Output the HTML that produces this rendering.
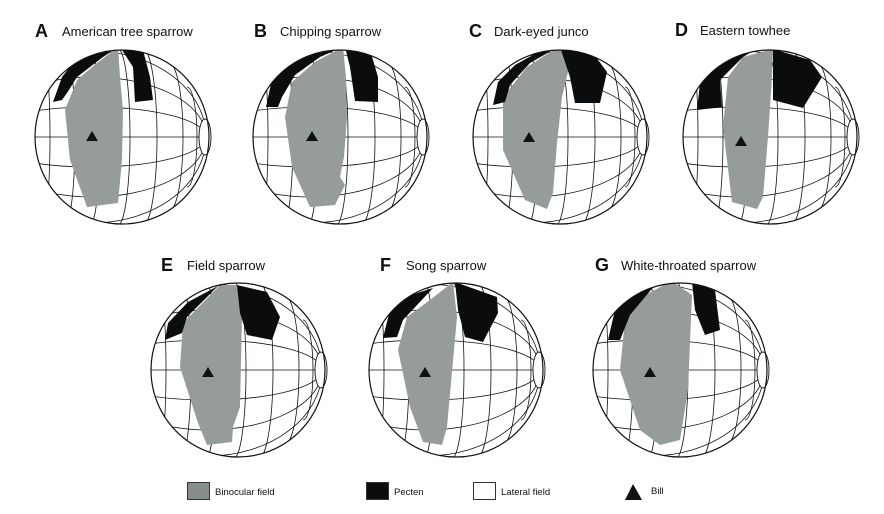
<!DOCTYPE html>
<html><head><meta charset="utf-8"><style>
body{margin:0;background:#fff;}
svg{display:block;}
text{font-family:"Liberation Sans",Arial,sans-serif;fill:#111;}
.l{font-size:18px;font-weight:bold;}
.n{font-size:13px;}
.lg{font-size:9.5px;}
</style></head><body>
<svg width="884" height="514" viewBox="0 0 884 514" xmlns="http://www.w3.org/2000/svg">
<defs>
<clipPath id="cp"><circle cx="0" cy="0" r="87"/></clipPath>
<g id="grid" fill="none" stroke="#111" stroke-width="0.8">
 <line x1="-87" y1="0" x2="84" y2="0"/>
 <ellipse cx="-30" cy="0" rx="114" ry="30"/>
 <ellipse cx="-30" cy="0" rx="114" ry="60"/>
 <ellipse cx="-30" cy="0" rx="114" ry="86"/>
 <path d="M65,-50 A10 50 0 0 1 65,50"/>
 <path d="M47,-74 A14 74 0 0 1 47,74"/>
 <path d="M21,-88 A14 88 0 0 1 21,88"/>
 <path d="M-4,-88 A12 88 0 0 1 -4,88"/>
 <path d="M-32,-88 A10 88 0 0 1 -32,88"/>
 <path d="M-57,-88 A10 88 0 0 1 -57,88"/>
 <path d="M-80,-88 A8 88 0 0 1 -80,88"/>
</g>
<g id="rim">
 <ellipse cx="83" cy="0" rx="6" ry="18" fill="#fff" stroke="#111" stroke-width="0.9"/>
 <circle cx="0" cy="0" r="87" fill="none" stroke="#111" stroke-width="1.2"/>
</g>
</defs>

<!-- A -->
<g transform="translate(122,137)">
 <g clip-path="url(#cp)">
  <use href="#grid"/>
  <polygon fill="#959c9b" points="-4,-90 -2,-60 1,-27 0,23 -4,66 -35,70 -52,23 -57,-27 -45,-57 -25,-74"/>
  <polygon fill="#0a0c0d" points="-69,-35 -60,-60 -49,-74 -25,-85 -4,-90 -19,-80 -45,-60 -55,-44 -60,-37"/>
  <polygon fill="#0a0c0d" points="-2,-90 21,-87 28,-60 31,-37 13,-35 11,-70"/>
 </g>
 <use href="#rim"/>
 <polygon points="-36,4 -30,-6 -24,4" fill="#111"/>
</g>
<!-- B -->
<g transform="translate(340,137)">
 <g clip-path="url(#cp)">
  <use href="#grid"/>
  <polygon fill="#959c9b" points="3,-90 6,-60 7,-20 4,20 0,40 5,48 -5,68 -30,70 -48,30 -55,-20 -48,-55 -25,-75"/>
  <polygon fill="#0a0c0d" points="-74,-30 -68,-58 -50,-75 -25,-86 3,-90 -20,-80 -45,-62 -58,-40 -62,-30"/>
  <polygon fill="#0a0c0d" points="5,-90 30,-87 38,-60 38,-35 15,-36 10,-70"/>
 </g>
 <use href="#rim"/>
 <polygon points="-34,4 -28,-6 -22,4" fill="#111"/>
</g>
<!-- C -->
<g transform="translate(560,137)">
 <g clip-path="url(#cp)">
  <use href="#grid"/>
  <polygon fill="#959c9b" points="-2,-90 10,-74 2,-40 -3,6 -7,56 -13,72 -35,63 -57,13 -57,-40 -33,-70"/>
  <polygon fill="#0a0c0d" points="-67,-32 -62,-55 -45,-72 -20,-86 -2,-90 -30,-74 -50,-52 -55,-35"/>
  <polygon fill="#0a0c0d" points="0,-90 30,-88 47,-65 40,-34 15,-34 10,-60"/>
 </g>
 <use href="#rim"/>
 <polygon points="-37,5 -31,-5 -25,5" fill="#111"/>
</g>
<!-- D -->
<g transform="translate(770,137)">
 <g clip-path="url(#cp)">
  <use href="#grid"/>
  <polygon fill="#959c9b" points="3,-88 2,-60 -2,0 -7,60 -13,72 -38,65 -47,-10 -42,-60 -27,-80"/>
  <polygon fill="#0a0c0d" points="-73,-27 -70,-54 -50,-72 -30,-84 -10,-90 -27,-80 -50,-57 -48,-30"/>
  <polygon fill="#0a0c0d" points="3,-88 40,-77 52,-60 33,-29 3,-37"/>
 </g>
 <use href="#rim"/>
 <polygon points="-35,9 -29,-1 -23,9" fill="#111"/>
</g>
<!-- E -->
<g transform="translate(238,370)">
 <g clip-path="url(#cp)">
  <use href="#grid"/>
  <polygon fill="#959c9b" points="-18,-85 -1,-85 4,-53 2,37 -5,57 -6,72 -31,75 -40,53 -58,-3 -55,-47"/>
  <polygon fill="#0a0c0d" points="-73,-30 -70,-47 -50,-68 -20,-84 -51,-53 -56,-37"/>
  <polygon fill="#0a0c0d" points="-1,-85 29,-78 42,-53 34,-30 9,-35 2,-57"/>
 </g>
 <use href="#rim"/>
 <polygon points="-36,7 -30,-3 -24,7" fill="#111"/>
</g>
<!-- F -->
<g transform="translate(456,370)">
 <g clip-path="url(#cp)">
  <use href="#grid"/>
  <polygon fill="#959c9b" points="-3,-88 1,-53 -9,57 -14,75 -33,72 -46,37 -58,-20 -49,-53 -26,-70"/>
  <polygon fill="#0a0c0d" points="-73,-32 -66,-60 -45,-75 -23,-82 -53,-50 -59,-33"/>
  <polygon fill="#0a0c0d" points="-1,-88 41,-73 42,-57 27,-28 9,-33 2,-60"/>
 </g>
 <use href="#rim"/>
 <polygon points="-37,7 -31,-3 -25,7" fill="#111"/>
</g>
<!-- G -->
<g transform="translate(680,370)">
 <g clip-path="url(#cp)">
  <use href="#grid"/>
  <polygon fill="#959c9b" points="-8,-89 12,-75 8,20 0,70 -20,75 -40,60 -60,0 -55,-50 -35,-75"/>
  <polygon fill="#0a0c0d" points="-72,-30 -65,-60 -45,-75 -25,-85 -50,-55 -60,-30"/>
  <polygon fill="#0a0c0d" points="12,-88 35,-80 40,-40 25,-35 15,-60"/>
 </g>
 <use href="#rim"/>
 <polygon points="-36,7 -30,-3 -24,7" fill="#111"/>
</g>

<text class="l" x="35" y="37">A</text><text class="n" x="62" y="36">American tree sparrow</text>
<text class="l" x="254" y="37">B</text><text class="n" x="280" y="36">Chipping sparrow</text>
<text class="l" x="469" y="37">C</text><text class="n" x="494" y="36">Dark-eyed junco</text>
<text class="l" x="675" y="36">D</text><text class="n" x="700" y="35">Eastern towhee</text>
<text class="l" x="161" y="271">E</text><text class="n" x="187" y="270">Field sparrow</text>
<text class="l" x="380" y="271">F</text><text class="n" x="406" y="270">Song sparrow</text>
<text class="l" x="595" y="271">G</text><text class="n" x="621" y="270">White-throated sparrow</text>

<rect x="187.5" y="482.5" width="22" height="17" fill="#868d8c" stroke="#333" stroke-width="1"/>
<text class="lg" x="215" y="495">Binocular field</text>
<rect x="366.5" y="482.5" width="22" height="17" fill="#0a0c0d" stroke="#333" stroke-width="1"/>
<text class="lg" x="394" y="495">Pecten</text>
<rect x="473.5" y="482.5" width="22" height="17" fill="#fff" stroke="#333" stroke-width="1"/>
<text class="lg" x="501" y="495">Lateral field</text>
<polygon points="625,500 633,484 642,500" fill="#111"/>
<text class="lg" x="651" y="494">Bill</text>
</svg>
</body></html>
